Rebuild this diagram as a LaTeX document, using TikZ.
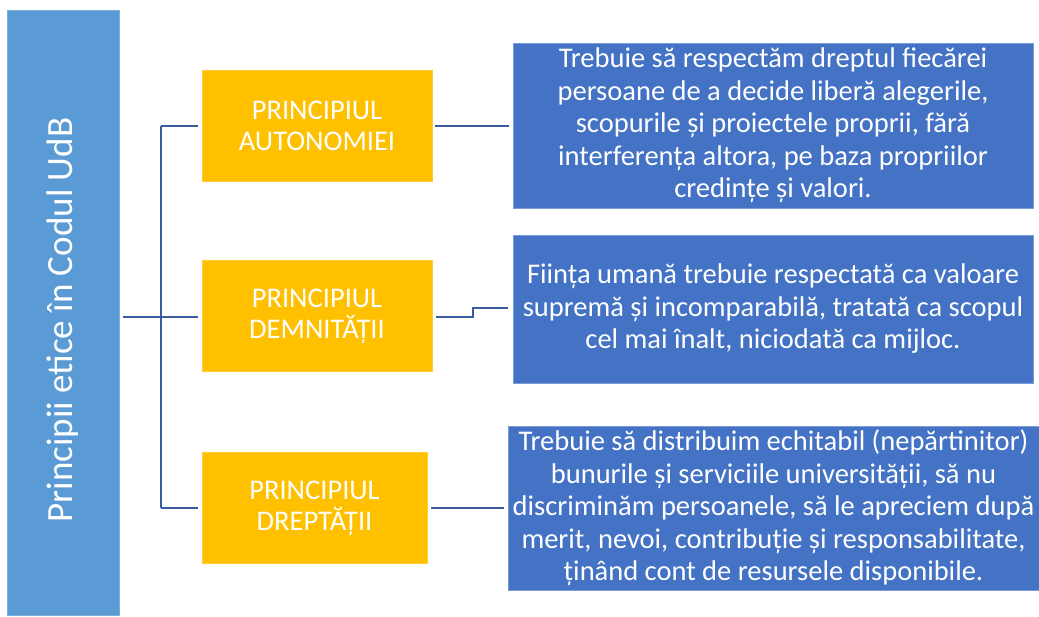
\documentclass[tikz,border=0pt]{standalone}
\usepackage{fontspec}
\setmainfont{Carlito}
\usetikzlibrary{positioning}
\definecolor{barblue}{HTML}{5B9BD5}
\definecolor{boxgold}{HTML}{FFC000}
\definecolor{boxblue}{HTML}{4472C4}
\definecolor{linkblue}{HTML}{3A5BA0}
\tikzset{
	sidebar/.style={fill=barblue,draw=barblue!80,text=white,inner sep=0pt,minimum width=112,minimum height=605,font=\fontsize{37}{42}\selectfont},
	principle/.style={fill=boxgold,draw=boxgold!80,text=white,inner sep=0pt,minimum height=111,align=center,font=\fontsize{28.5}{31}\selectfont},
	detail/.style={fill=boxblue,draw=boxblue!70!white,text=white,inner sep=0pt,align=center,font=\fontsize{28.5}{32.5}\selectfont},
	link/.style={draw=linkblue,line width=2.4}
}
\begin{document}
\begin{tikzpicture}[x=1pt,y=-1pt]
		\useasboundingbox (0,0) rectangle (1039,617);
		
		\node[sidebar] (bar) at (63,313) {\rotatebox{90}{Principii etice în Codul UdB\hspace{14pt}}};
		
		\node[principle,minimum width=230] (aut) at (317,126) {PRINCIPIUL\\AUTONOMIEI};
		\node[principle,minimum width=230] (dem) at (317,316) {PRINCIPIUL\\DEMNITĂȚII};
		\node[principle,minimum width=225] (dre) at (314.5,508) {PRINCIPIUL\\DREPTĂȚII};
		
		\node[detail,minimum width=520,minimum height=165] (autd) at (773,125.5) {Trebuie să respectăm dreptul fiecărei\\persoane de a decide liberă alegerile,\\scopurile și proiectele proprii, fără\\interferența altora, pe baza propriilor\\credințe și valori.};
		\node[detail,minimum width=520,minimum height=148] (demd) at (773,309) {Ființa umană trebuie respectată ca valoare\\supremă și incomparabilă, tratată ca scopul\\cel mai înalt, niciodată ca mijloc.};
		\node[detail,minimum width=531,minimum height=164] (dred) at (773.5,508) {Trebuie să distribuim echitabil (nepărtinitor)\\bunurile și serviciile universității, să nu\\discriminăm persoanele, să le apreciem după\\merit, nevoi, contribuție și responsabilitate,\\ținând cont de resursele disponibile.};
		
		\coordinate (hub) at (161,317);
		\coordinate (top) at (161,126);
		\coordinate (bot) at (161,508);
		\coordinate (step) at (473,308);
		
		\draw[link] ([xshift=4]bar.east |- hub) -- (hub);
		\draw[link] (top) -- (bot);
		\draw[link,shorten >=4] (top) -- (aut.west);
		\draw[link,shorten >=4] (hub) -- (hub -| dem.west);
		\draw[link,shorten >=4] (bot) -- (dre.west);
		\draw[link,shorten <=3,shorten >=4] (aut.east) -- (aut.east -| autd.west);
		\draw[link,shorten <=4,shorten >=5] (hub -| dem.east) -| (step) -- (step -| demd.west);
		\draw[link,shorten <=4,shorten >=4] (dre.east) -- (dre.east -| dred.west);
	\end{tikzpicture}
\end{document}
